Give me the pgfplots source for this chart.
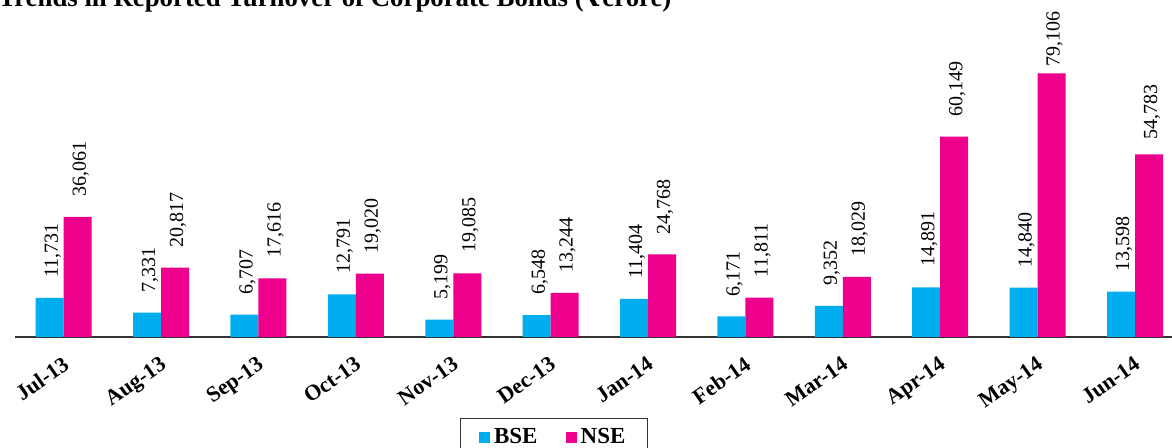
\documentclass[border=0pt]{standalone}
\usepackage{pgfplots}
\pgfplotsset{compat=1.18}
\usepackage{fontspec}
\setmainfont{Liberation Serif}
\newfontfamily\dejavu{DejaVu Serif}
\definecolor{bse}{HTML}{00AEEF}
\definecolor{nse}{HTML}{EC008C}
\pgfplotstableread{
x bse nse bgap ngap
0 11731 36061 10 10
1 7331 20817 10 10
2 6707 17616 10 10
3 12791 19020 10 10
4 5199 19085 10 10
5 6548 13244 10 10
6 11404 24768 10 10
7 6171 11811 10 10
8 9352 18029 10 10
9 14891 60149 10 10
10 14840 79106 10 3
11 13598 54783 10 7
}\datatable
\begin{document}
\begin{tikzpicture}
\begin{axis}[
  at={(7.5pt,55.5pt)}, anchor=south west,
  scale only axis, width=578.5pt, height=150pt,
  xmin=-0.5, xmax=11.38, ymin=0, ymax=90000,
  clip=false,
  hide y axis,
  axis x line*=bottom,
  x axis line style={-, line width=0.9pt, color=black!80},
  ybar, bar width=14pt,
  xtick=data,
  xticklabels={Jul-13,Aug-13,Sep-13,Oct-13,Nov-13,Dec-13,Jan-14,Feb-14,Mar-14,Apr-14,May-14,Jun-14},
  major tick length=0pt,
  xticklabel style={xshift=-1pt, yshift=-9pt, rotate=35, anchor=north east, inner sep=0pt, font=\bfseries\fontsize{11}{13}\selectfont},
  /pgf/number format/assume math mode=true,
  /pgf/number format/.cd, 1000 sep={,}, /pgfplots/.cd,
  nodes near coords,
  every node near coord/.append style={xshift=1.5pt, anchor=west, rotate=90, inner xsep=\gap pt, inner ysep=0pt, font=\fontsize{10}{12}\selectfont, color=black},
  legend style={at={(0.466,-0.27)}, anchor=north, legend columns=2, draw=black!80, line width=0.5pt, font=\bfseries\fontsize{11.5}{13}\selectfont, inner xsep=9pt, inner ysep=3pt, /tikz/every even column/.append style={column sep=12pt}},
  legend image code/.code={\fill[#1, draw=none] (0pt,-2.8pt) rectangle (5.6pt,2.8pt);},
]
\addplot[fill=bse, draw=none, bar shift=-7pt, visualization depends on={\thisrow{bgap} \as \gap}] table[x=x, y=bse] {\datatable};
\addplot[fill=nse, draw=none, bar shift=7pt, visualization depends on={\thisrow{ngap} \as \gap}] table[x=x, y=nse] {\datatable};
\legend{BSE, NSE}
\end{axis}
\node[anchor=base west, inner sep=0pt, font=\bfseries\fontsize{13.4}{15}\selectfont] at (-1pt,220.8pt) {Trends in Reported Turnover of Corporate Bonds ({\dejavu ₹}crore)};
\pgfresetboundingbox
\path (0pt,0pt) rectangle (586pt,224pt);
\end{tikzpicture}
\end{document}
